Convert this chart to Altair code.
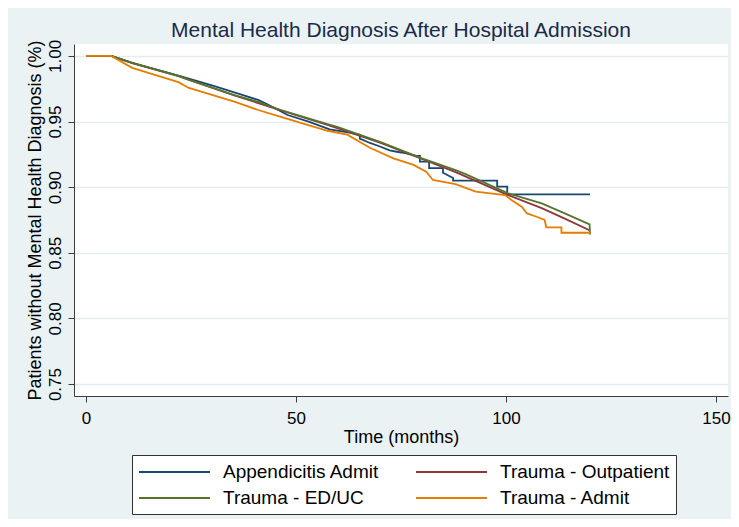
import altair as alt
import pandas as pd

# ---- data ----
# legend fills column by column, so this order gives rows:
# Appendicitis Admit | Trauma - Outpatient  /  Trauma - ED/UC | Trauma - Admit
series_names = ["Appendicitis Admit", "Trauma - ED/UC", "Trauma - Outpatient", "Trauma - Admit"]
series_colors = ["#1a476f", "#55752f", "#90353b", "#e37e00"]
draw_order = ["Appendicitis Admit", "Trauma - Outpatient", "Trauma - ED/UC", "Trauma - Admit"]

appendicitis_t = [0, 6, 11, 22, 30, 37, 41, 43.3, 48, 53, 58, 62, 65.2, 65.2, 67.6, 70, 72.3, 74,
                  76, 78.6, 79.5, 79.5, 81.7, 81.7, 85, 85, 87.4, 87.4, 97.9, 97.9, 100.3, 100.3, 120]
appendicitis_s = [1.0, 1.0, 0.9947, 0.985, 0.9775, 0.9705, 0.9665, 0.963, 0.955, 0.950, 0.944, 0.942,
                  0.940, 0.937, 0.9337, 0.931, 0.928, 0.927, 0.926, 0.9238, 0.9238, 0.9195, 0.9195,
                  0.9146, 0.9146, 0.911, 0.907, 0.905, 0.905, 0.9004, 0.9004, 0.8946, 0.8946]

outpatient_t = [0, 6, 11, 22, 35.5, 46.4, 57.5, 70, 80, 88, 100.5, 108.5, 114, 120]
outpatient_s = [1.0, 1.0, 0.9945, 0.9846, 0.9697, 0.9585, 0.9475, 0.934, 0.9215, 0.9115,
                0.894, 0.884, 0.876, 0.867]

edu_t = [0, 6, 11, 22, 24.5, 35.5, 41, 46.4, 57.5, 59.8, 70, 80, 88, 90.4, 100.5, 108.5,
         114, 119.9, 120]
edu_s = [1.0, 1.0, 0.9947, 0.9848, 0.9817, 0.970, 0.965, 0.9588, 0.948, 0.946, 0.9345,
         0.922, 0.913, 0.910, 0.8953, 0.8877, 0.880, 0.8717, 0.864]

admit_t = [0, 6, 11, 22, 24.5, 35.5, 41, 46.4, 57.5, 62.2, 67.6, 73.2, 78, 81, 82.6, 88, 92.8,
           99.8, 101.4, 103.8, 105, 107.3, 109.2, 109.6, 113.2, 113.2, 120]
admit_s = [1.0, 1.0, 0.9909, 0.980, 0.9756, 0.965, 0.9588, 0.9535, 0.943, 0.940, 0.930, 0.922,
           0.917, 0.9118, 0.9055, 0.9024, 0.8966, 0.894, 0.890, 0.885, 0.880, 0.8775, 0.875,
           0.8694, 0.8694, 0.8653, 0.8653]

x_ticks = [0, 50, 100, 150]
y_ticks = [0.75, 0.80, 0.85, 0.90, 0.95, 1.00]

# ---- build table ----
rows = []
for name, ts, ss in [
    ("Appendicitis Admit", appendicitis_t, appendicitis_s),
    ("Trauma - Outpatient", outpatient_t, outpatient_s),
    ("Trauma - ED/UC", edu_t, edu_s),
    ("Trauma - Admit", admit_t, admit_s),
]:
    for i, (t, s) in enumerate(zip(ts, ss)):
        rows.append({"series": name, "t": t, "s": s, "idx": i})
df = pd.DataFrame(rows)

FONT = "Liberation Sans"

base = alt.Chart(df).mark_line(strokeWidth=1.8, interpolate="linear").encode(
    x=alt.X("t:Q",
            scale=alt.Scale(domain=[-2.857, 152.86], nice=False, zero=False),
            axis=alt.Axis(title="Time (months)", values=x_ticks, grid=False,
                          labelPadding=8, titlePadding=2, labelFlush=False,
                          labelOverlap=False)),
    y=alt.Y("s:Q",
            scale=alt.Scale(domain=[0.7409, 1.0091], nice=False, zero=False),
            axis=alt.Axis(title="Patients without Mental Health Diagnosis (%)",
                          values=y_ticks, format=".2f", grid=True, labelAngle=270,
                          labelPadding=4, titlePadding=2, labelFlush=False,
                          labelOverlap=False)),
    color=alt.Color("series:N",
                    scale=alt.Scale(domain=series_names, range=series_colors),
                    legend=alt.Legend(title=None, orient="none", legendX=58, legendY=411,
                                      columns=2, symbolType="M-1,0H6.1", symbolSize=400,
                                      symbolStrokeWidth=1.8, symbolFillColor="transparent",
                                      labelFontSize=19,
                                      labelFont=FONT, labelColor="#000000",
                                      labelLimit=300, columnPadding=32, rowPadding=5,
                                      padding=6, strokeColor="#333333", fillColor="white",
                                      labelOffset=63)),
    order="idx:Q",
)

layers = [base.transform_filter(alt.datum.series == n) for n in draw_order]

chart = alt.layer(*layers).properties(
    width=654,
    height=352,
    background="#eaf2f3",
    padding={"left": 66, "top": 36, "right": 3, "bottom": 123},
    autosize=alt.AutoSizeParams(type="none"),
    title=alt.TitleParams("Mental Health Diagnosis After Hospital Admission",
                          fontSize=21, font=FONT, color="#1a2a4a", fontWeight="normal",
                          anchor="middle", baseline="middle", offset=10, dy=23),
).configure_view(
    fill="white", stroke=None
).configure_axis(
    domainColor="#3c3c3c", tickColor="#3c3c3c", tickSize=6, domainWidth=1, tickWidth=1,
    labelFont=FONT, labelFontSize=17, labelColor="#000000",
    titleFont=FONT, titleFontSize=18, titleColor="#000000", titleFontWeight="normal",
    gridColor="#e3ecef", gridWidth=1.5,
)

chart.save("out.html", embed_options={"renderer": "svg", "actions": False})
